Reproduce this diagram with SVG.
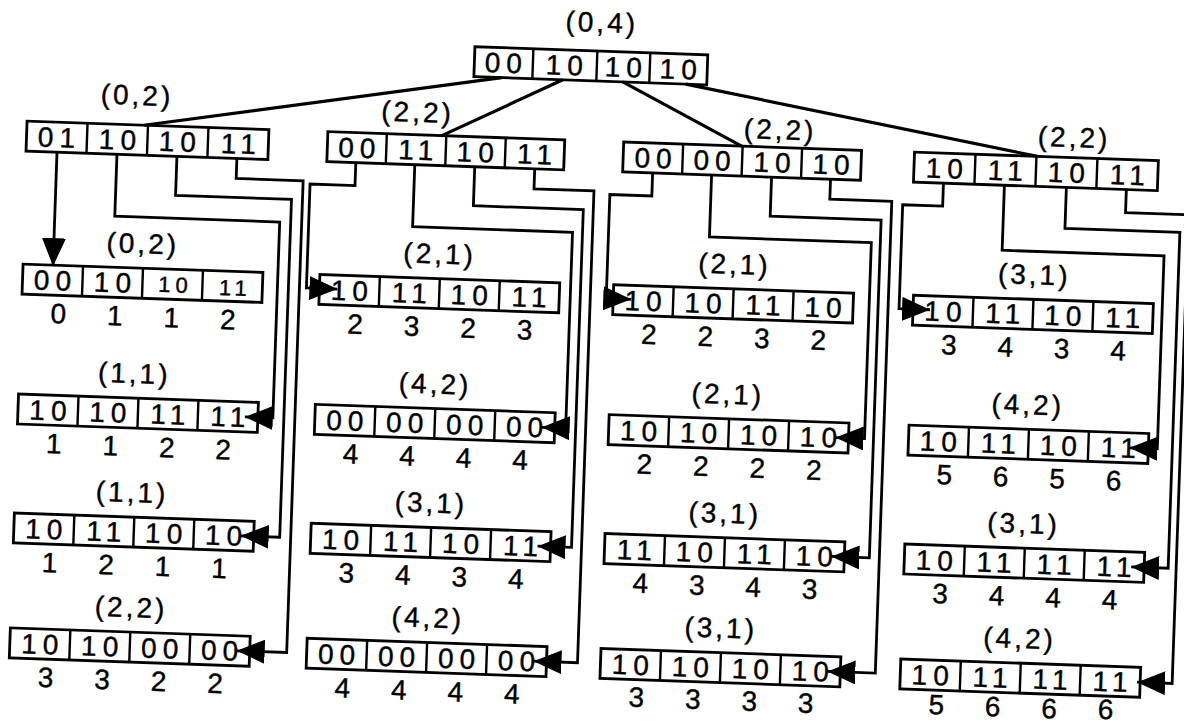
<svg xmlns="http://www.w3.org/2000/svg" width="1184" height="725" viewBox="0 0 1184 725">
<style>
.box{fill:#fff;stroke:#000;stroke-width:2.8}
.dv{fill:none;stroke:#000;stroke-width:2.4}
text{font-family:"Liberation Sans",Arial,Helvetica,sans-serif;fill:#000;stroke:#000;stroke-width:0.4;text-anchor:middle}
.c{font-size:28px;letter-spacing:6px}
.s{font-size:22px;letter-spacing:5px}
.l{font-size:28px;letter-spacing:3px}
.n{font-size:28px}
.con{fill:none;stroke:#000;stroke-width:2.8;stroke-linejoin:miter}
.arr{marker-end:url(#ah)}
.dg{fill:none;stroke:#000;stroke-width:3.2}
</style>
<defs>
<marker id="ah" markerUnits="userSpaceOnUse" viewBox="0 0 28 24" markerWidth="28" markerHeight="24" refX="28" refY="12" orient="auto">
<path d="M0,0 L28,12 L0,24 Z" fill="#000"/>
</marker>
</defs>
<rect x="0" y="0" width="1184" height="725" fill="#fff"/>
<g transform="rotate(2 592 362)">

<g id="root">
<text class="l" x="590" y="32">(0,4)</text>
<rect class="box" x="464" y="51" width="233" height="30"/>
<path class="dv" d="M522.5,51v30M586.5,51v30M639.5,51v30"/>
<text class="c" x="496" y="76">00</text><text class="c" x="557" y="76">10</text><text class="c" x="616" y="76">10</text><text class="c" x="671" y="76">10</text>
</g>

<g id="n-a">
<text class="l" x="128" y="121">(0,2)</text>
<rect class="box" x="19" y="141" width="242" height="30"/>
<path class="dv" d="M79.5,141v30M140,141v30M200.5,141v30"/>
<text class="c" x="52" y="166">01</text><text class="c" x="113" y="166">10</text><text class="c" x="173" y="166">10</text><text class="c" x="234" y="166">11</text>
</g>
<g id="n-b">
<text class="l" x="409" y="128">(2,2)</text>
<rect class="box" x="320" y="141" width="237" height="30"/>
<path class="dv" d="M379,141v30M438.5,141v30M498,141v30"/>
<text class="c" x="352.5" y="166">00</text><text class="c" x="411.5" y="166">11</text><text class="c" x="471" y="166">10</text><text class="c" x="530.5" y="166">11</text>
</g>
<g id="n-c">
<text class="l" x="772" y="133">(2,2)</text>
<rect class="box" x="616" y="141" width="238" height="30"/>
<path class="dv" d="M675.5,141v30M735,141v30M794.5,141v30"/>
<text class="c" x="649" y="166">00</text><text class="c" x="708" y="166">00</text><text class="c" x="768" y="166">10</text><text class="c" x="827" y="166">10</text>
</g>
<g id="n-d">
<text class="l" x="1066" y="130.5">(2,2)</text>
<rect class="box" x="907" y="141" width="244" height="30"/>
<path class="dv" d="M968,141v30M1029,141v30M1090,141v30"/>
<text class="c" x="940.5" y="166">10</text><text class="c" x="1001.5" y="166">11</text><text class="c" x="1062.5" y="166">10</text><text class="c" x="1123.5" y="166">11</text>
</g>

<g id="n-a1">
<text class="l" x="139" y="269">(0,2)</text>
<rect class="box" x="20" y="284" width="240" height="30"/>
<path class="dv" d="M80,284v30M140,284v30M200,284v30"/>
<text class="c" x="53" y="309">00</text><text class="c" x="113" y="309">10</text><text class="s" x="173" y="307">10</text><text class="s" x="233" y="308">11</text>
<text class="n" x="57" y="342">0</text><text class="n" x="113.5" y="342">1</text><text class="n" x="170" y="342">1</text><text class="n" x="226.5" y="342">2</text>
</g>
<g id="n-a2">
<text class="l" x="135" y="399">(1,1)</text>
<rect class="box" x="20" y="414" width="240" height="30"/>
<path class="dv" d="M80,414v30M140,414v30M200,414v30"/>
<text class="c" x="53" y="439">10</text><text class="c" x="113" y="439">10</text><text class="c" x="173" y="439">11</text><text class="c" x="233" y="439">11</text>
<text class="n" x="57" y="472">1</text><text class="n" x="113.5" y="472">1</text><text class="n" x="170" y="472">2</text><text class="n" x="226.5" y="472">2</text>
</g>
<g id="n-a3">
<text class="l" x="137" y="518">(1,1)</text>
<rect class="box" x="20" y="533" width="240" height="30"/>
<path class="dv" d="M80,533v30M140,533v30M200,533v30"/>
<text class="c" x="53" y="558">10</text><text class="c" x="113" y="558">11</text><text class="c" x="173" y="558">10</text><text class="c" x="233" y="558">10</text>
<text class="n" x="57" y="591">1</text><text class="n" x="113.5" y="591">2</text><text class="n" x="170" y="591">1</text><text class="n" x="226.5" y="591">1</text>
</g>
<g id="n-a4">
<text class="l" x="140" y="633">(2,2)</text>
<rect class="box" x="20" y="648" width="240" height="30"/>
<path class="dv" d="M80,648v30M140,648v30M200,648v30"/>
<text class="c" x="53" y="673">10</text><text class="c" x="113" y="673">10</text><text class="c" x="173" y="673">00</text><text class="c" x="233" y="673">00</text>
<text class="n" x="57" y="706">3</text><text class="n" x="113.5" y="706">3</text><text class="n" x="170" y="706">2</text><text class="n" x="226.5" y="706">2</text>
</g>

<g id="n-b1">
<text class="l" x="436" y="269">(2,1)</text>
<rect class="box" x="317" y="284" width="240" height="30"/>
<path class="dv" d="M377,284v30M437,284v30M497,284v30"/>
<text class="c" x="350" y="309">10</text><text class="c" x="410" y="309">11</text><text class="c" x="470" y="309">10</text><text class="c" x="530" y="309">11</text>
<text class="n" x="354" y="342">2</text><text class="n" x="410.5" y="342">3</text><text class="n" x="467" y="342">2</text><text class="n" x="523.5" y="342">3</text>
</g>
<g id="n-b2">
<text class="l" x="436" y="399">(4,2)</text>
<rect class="box" x="317" y="414" width="240" height="30"/>
<path class="dv" d="M377,414v30M437,414v30M497,414v30"/>
<text class="c" x="350" y="439">00</text><text class="c" x="410" y="439">00</text><text class="c" x="470" y="439">00</text><text class="c" x="530" y="439">00</text>
<text class="n" x="354" y="472">4</text><text class="n" x="410.5" y="472">4</text><text class="n" x="467" y="472">4</text><text class="n" x="523.5" y="472">4</text>
</g>
<g id="n-b3">
<text class="l" x="436" y="518">(3,1)</text>
<rect class="box" x="317" y="533" width="240" height="30"/>
<path class="dv" d="M377,533v30M437,533v30M497,533v30"/>
<text class="c" x="350" y="558">10</text><text class="c" x="410" y="558">11</text><text class="c" x="470" y="558">10</text><text class="c" x="530" y="558">11</text>
<text class="n" x="354" y="591">3</text><text class="n" x="410.5" y="591">4</text><text class="n" x="467" y="591">3</text><text class="n" x="523.5" y="591">4</text>
</g>
<g id="n-b4">
<text class="l" x="437" y="633">(4,2)</text>
<rect class="box" x="317" y="648" width="240" height="30"/>
<path class="dv" d="M377,648v30M437,648v30M497,648v30"/>
<text class="c" x="350" y="673">00</text><text class="c" x="410" y="673">00</text><text class="c" x="470" y="673">00</text><text class="c" x="530" y="673">00</text>
<text class="n" x="354" y="706">4</text><text class="n" x="410.5" y="706">4</text><text class="n" x="467" y="706">4</text><text class="n" x="523.5" y="706">4</text>
</g>

<g id="n-c1">
<text class="l" x="731" y="269">(2,1)</text>
<rect class="box" x="611" y="284" width="240" height="30"/>
<path class="dv" d="M671,284v30M731,284v30M791,284v30"/>
<text class="c" x="644" y="309">10</text><text class="c" x="704" y="309">10</text><text class="c" x="764" y="309">11</text><text class="c" x="824" y="309">10</text>
<text class="n" x="648" y="342">2</text><text class="n" x="704.5" y="342">2</text><text class="n" x="761" y="342">3</text><text class="n" x="817.5" y="342">2</text>
</g>
<g id="n-c2">
<text class="l" x="729" y="399">(2,1)</text>
<rect class="box" x="611" y="414" width="240" height="30"/>
<path class="dv" d="M671,414v30M731,414v30M791,414v30"/>
<text class="c" x="644" y="439">10</text><text class="c" x="704" y="439">10</text><text class="c" x="764" y="439">10</text><text class="c" x="824" y="439">10</text>
<text class="n" x="648" y="472">2</text><text class="n" x="704.5" y="472">2</text><text class="n" x="761" y="472">2</text><text class="n" x="817.5" y="472">2</text>
</g>
<g id="n-c3">
<text class="l" x="730" y="518">(3,1)</text>
<rect class="box" x="611" y="533" width="240" height="30"/>
<path class="dv" d="M671,533v30M731,533v30M791,533v30"/>
<text class="c" x="644" y="558">11</text><text class="c" x="704" y="558">10</text><text class="c" x="764" y="558">11</text><text class="c" x="824" y="558">10</text>
<text class="n" x="648" y="591">4</text><text class="n" x="704.5" y="591">3</text><text class="n" x="761" y="591">4</text><text class="n" x="817.5" y="591">3</text>
</g>
<g id="n-c4">
<text class="l" x="730" y="633">(3,1)</text>
<rect class="box" x="611" y="648" width="240" height="30"/>
<path class="dv" d="M671,648v30M731,648v30M791,648v30"/>
<text class="c" x="644" y="673">10</text><text class="c" x="704" y="673">10</text><text class="c" x="764" y="673">10</text><text class="c" x="824" y="673">10</text>
<text class="n" x="648" y="705">3</text><text class="n" x="704.5" y="705">3</text><text class="n" x="761" y="705">3</text><text class="n" x="817.5" y="705">3</text>
</g>

<g id="n-d1">
<text class="l" x="1031" y="269">(3,1)</text>
<rect class="box" x="911" y="284" width="240" height="30"/>
<path class="dv" d="M971,284v30M1031,284v30M1091,284v30"/>
<text class="c" x="944" y="309">10</text><text class="c" x="1004" y="309">11</text><text class="c" x="1064" y="309">10</text><text class="c" x="1124" y="309">11</text>
<text class="n" x="948" y="342">3</text><text class="n" x="1004.5" y="342">4</text><text class="n" x="1061" y="342">3</text><text class="n" x="1117.5" y="342">4</text>
</g>
<g id="n-d2">
<text class="l" x="1029" y="399">(4,2)</text>
<rect class="box" x="911" y="414" width="240" height="30"/>
<path class="dv" d="M971,414v30M1031,414v30M1091,414v30"/>
<text class="c" x="944" y="439">10</text><text class="c" x="1004" y="439">11</text><text class="c" x="1064" y="439">10</text><text class="c" x="1124" y="439">11</text>
<text class="n" x="948" y="472">5</text><text class="n" x="1004.5" y="472">6</text><text class="n" x="1061" y="472">5</text><text class="n" x="1117.5" y="472">6</text>
</g>
<g id="n-d3">
<text class="l" x="1029" y="518">(3,1)</text>
<rect class="box" x="911" y="533" width="240" height="30"/>
<path class="dv" d="M971,533v30M1031,533v30M1091,533v30"/>
<text class="c" x="944" y="558">10</text><text class="c" x="1004" y="558">11</text><text class="c" x="1064" y="558">11</text><text class="c" x="1124" y="558">11</text>
<text class="n" x="948" y="591">3</text><text class="n" x="1004.5" y="591">4</text><text class="n" x="1061" y="591">4</text><text class="n" x="1117.5" y="591">4</text>
</g>
<g id="n-d4">
<text class="l" x="1029" y="633">(4,2)</text>
<rect class="box" x="911" y="648" width="240" height="30"/>
<path class="dv" d="M971,648v30M1031,648v30M1091,648v30"/>
<text class="c" x="944" y="673">10</text><text class="c" x="1004" y="673">11</text><text class="c" x="1064" y="673">11</text><text class="c" x="1124" y="673">11</text>
<text class="n" x="948" y="702">5</text><text class="n" x="1004.5" y="702">6</text><text class="n" x="1061" y="702">6</text><text class="n" x="1117.5" y="701">6</text>
</g>

<g id="connectors">
<path class="dg" d="M492,81L136,141M553,81L434,141M613,81L734,141M676,81L1030,141"/>
<path class="con arr" d="M50,171V285"/>
<path class="con arr" d="M110,171V233H275V429H247"/>
<path class="con arr" d="M170,171V210H286V548H247"/>
<path class="con arr" d="M230,171V191H297V663H247"/>
<path class="con arr" d="M349,171V194H304V298H335"/>
<path class="con arr" d="M408,171V233H568V429H544"/>
<path class="con arr" d="M468,171V210H578V548H544"/>
<path class="con arr" d="M528,171V191H588V663H544"/>
<path class="con arr" d="M646,171V194H604V298H629"/>
<path class="con arr" d="M705,171V233H867V429H838"/>
<path class="con arr" d="M765,171V210H876V548H838"/>
<path class="con arr" d="M824,171V191H886V663H838"/>
<path class="con arr" d="M937,171V194H897V298H928"/>
<path class="con arr" d="M998,171V236H1160V429H1132"/>
<path class="con arr" d="M1060,171V212H1175V548H1138"/>
<path class="con arr" d="M1120,171V194H1183V663H1148"/>
</g>
</g>
</svg>
